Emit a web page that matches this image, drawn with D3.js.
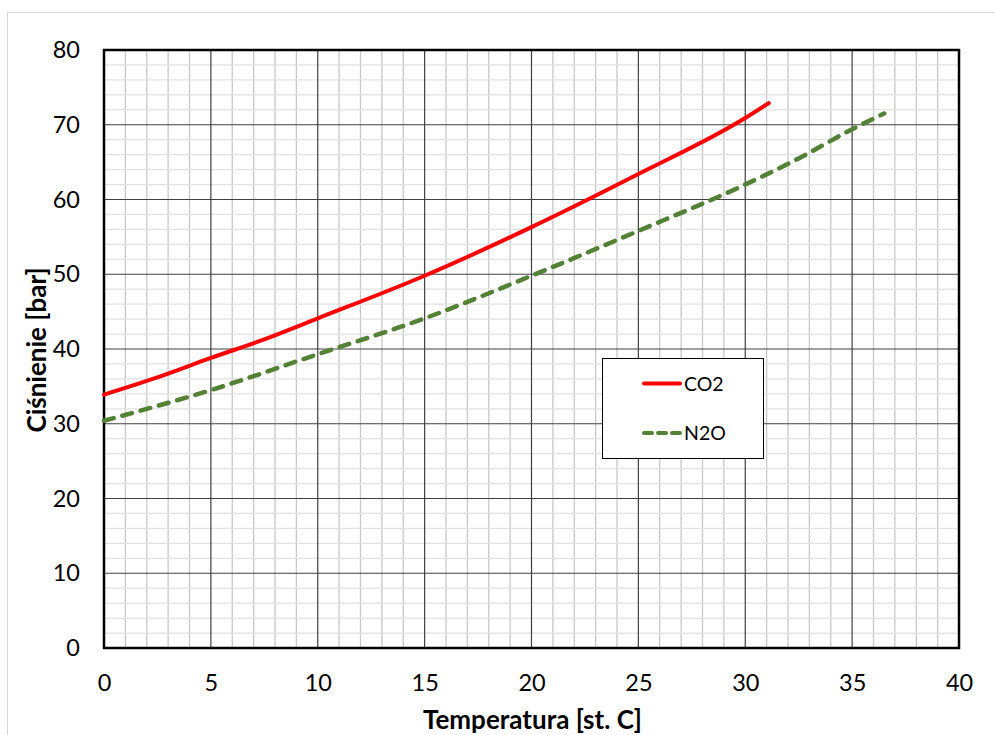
<!DOCTYPE html>
<html>
<head>
<meta charset="utf-8">
<script src="https://cdn.jsdelivr.net/npm/d3@7"></script>
<style>
  body { margin: 0; background: #fff; }
  svg { display: block; font-family: Lato, "Open Sans", sans-serif; }
</style>
</head>
<body>
<div id="chart"></div>
<script>
// values
const co2Temp  = [0, 2.5, 5, 7.5, 10, 15, 20, 25, 30, 31.1]
const co2Press = [33.9, 36.2, 38.8, 41.3, 44.1, 49.8, 56.3, 63.4, 70.9, 72.9]
const n2oTemp  = [0, 5, 10, 15, 20, 25, 30, 32.5, 35, 36.5]
const n2oPress = [30.4, 34.5, 39.3, 44.1, 49.8, 55.8, 62.0, 65.5, 69.4, 71.5]
const xTicks = [0, 5, 10, 15, 20, 25, 30, 35, 40]
const yTicks = [0, 10, 20, 30, 40, 50, 60, 70, 80]
const seriesNames = ["CO2", "N2O"]

var width = 995, height = 735
var plotL = 104, plotR = 959, plotT = 50, plotB = 648

var svg = d3.select("#chart").append("svg")
  .attr("width", width).attr("height", height)

// outer chart frame
svg.append("rect")
  .attr("x", 7.5).attr("y", 12.5).attr("width", 1000).attr("height", 800)
  .attr("fill", "#fff").attr("stroke", "#d9d9d9")

var x = d3.scaleLinear().domain([0, 40]).range([plotL, plotR])
var y = d3.scaleLinear().domain([0, 80]).range([plotB, plotT])

// minor grid
svg.append("g").selectAll("line")
  .data(d3.range(1, 40).filter(d => d % 5 != 0))
  .enter().append("line")
    .attr("x1", d => x(d)).attr("x2", d => x(d))
    .attr("y1", plotT).attr("y2", plotB)
    .attr("stroke", "#c8c8c8").attr("stroke-width", 1.3)
svg.append("g").selectAll("line")
  .data(d3.range(2, 80, 2).filter(d => d % 10 != 0))
  .enter().append("line")
    .attr("x1", plotL).attr("x2", plotR)
    .attr("y1", d => y(d)).attr("y2", d => y(d))
    .attr("stroke", "#e2e2e2").attr("stroke-width", 1.3)

// major grid
svg.append("g").selectAll("line")
  .data(xTicks.slice(1, -1))
  .enter().append("line")
    .attr("x1", d => x(d)).attr("x2", d => x(d))
    .attr("y1", plotT).attr("y2", plotB)
    .attr("stroke", "#404040").attr("stroke-width", 1.2)
svg.append("g").selectAll("line")
  .data(yTicks.slice(1, -1))
  .enter().append("line")
    .attr("x1", plotL).attr("x2", plotR)
    .attr("y1", d => y(d)).attr("y2", d => y(d))
    .attr("stroke", "#404040").attr("stroke-width", 1.2)

// plot border
svg.append("rect")
  .attr("x", plotL).attr("y", plotT)
  .attr("width", plotR - plotL).attr("height", plotB - plotT)
  .attr("fill", "none").attr("stroke", "#000").attr("stroke-width", 2.5)

// axes (labels only)
var xAxis = svg.append("g")
  .attr("transform", "translate(0," + plotB + ")")
  .call(d3.axisBottom(x).tickValues(xTicks).tickSize(0).tickPadding(26))
var yAxis = svg.append("g")
  .attr("transform", "translate(" + plotL + ",0)")
  .call(d3.axisLeft(y).tickValues(yTicks).tickSize(0).tickPadding(24))
;[xAxis, yAxis].forEach(a => {
  a.select(".domain").remove()
  a.selectAll("text").attr("font-size", 23.5).attr("fill", "#000")
    .style("font-family", "Lato, sans-serif")
})

// axis titles
svg.append("text")
  .attr("x", (plotL + plotR) / 2 + 1).attr("y", 729)
  .attr("text-anchor", "middle")
  .attr("font-size", 26).attr("font-weight", "bold")
  .text("Temperatura [st. C]")
svg.append("text")
  .attr("transform", "translate(46,350) rotate(-90)")
  .attr("text-anchor", "middle")
  .attr("font-size", 26).attr("font-weight", "bold")
  .text("Ciśnienie [bar]")

// lines
var line = d3.line()
  .x(d => x(d[0])).y(d => y(d[1]))
  .curve(d3.curveMonotoneX)

svg.append("path")
  .datum(d3.zip(co2Temp, co2Press))
  .attr("d", line)
  .attr("fill", "none").attr("stroke", "#ff0000")
  .attr("stroke-width", 4).attr("stroke-linecap", "round")

svg.append("path")
  .datum(d3.zip(n2oTemp, n2oPress))
  .attr("d", line)
  .attr("fill", "none").attr("stroke", "#538135")
  .attr("stroke-width", 4.5).attr("stroke-linecap", "round")
  .attr("stroke-dasharray", "10,9")

// legend
var legend = svg.append("g")
legend.append("rect")
  .attr("x", 602.5).attr("y", 358.5).attr("width", 161).attr("height", 100)
  .attr("fill", "#fff").attr("stroke", "#000").attr("stroke-width", 1)
var styles = [{color: "#ff0000", dash: null}, {color: "#538135", dash: "8,6"}]
seriesNames.forEach((name, i) => {
  var ly = 383.5 + i * 49.5
  legend.append("line")
    .attr("x1", 644).attr("x2", 680).attr("y1", ly).attr("y2", ly)
    .attr("stroke", styles[i].color).attr("stroke-width", 4)
    .attr("stroke-linecap", "round")
    .attr("stroke-dasharray", styles[i].dash)
  legend.append("text")
    .attr("x", 684).attr("y", ly + 7)
    .attr("font-size", 19.5)
    .text(name)
})
</script>
</body>
</html>
